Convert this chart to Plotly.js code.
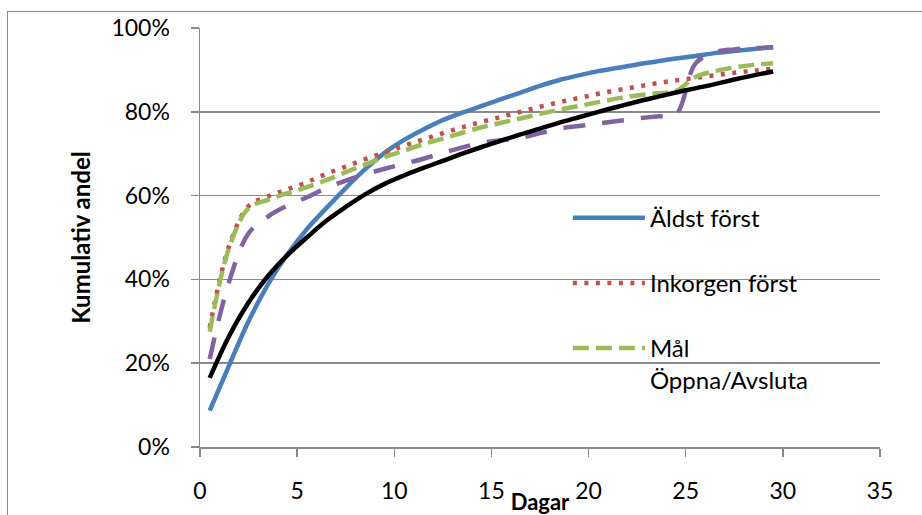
<!DOCTYPE html>
<html>
<head>
<meta charset="utf-8">
<script src="https://cdn.plot.ly/plotly-3.0.1.min.js"></script>
<style>
  html, body { margin: 0; padding: 0; background: #fff; }
  #wrap { position: relative; width: 922px; height: 515px; overflow: hidden; }
  #chart { width: 922px; height: 515px; }
  #frame {
    position: absolute; left: 7px; top: 11px; width: 1000px; height: 600px;
    border-left: 1.5px solid #8a8a8a; border-top: 1.5px solid #8a8a8a;
    pointer-events: none;
  }
</style>
</head>
<body>
<div id="wrap">
  <div id="chart"></div>
  <div id="frame"></div>
</div>
<script>
// Days (bin midpoints)
const dagar = [0.5, 1.5, 2.5, 3.5, 4.5, 5.5, 6.5, 7.5, 8.5, 9.5,
               10.5, 11.5, 12.5, 13.5, 14.5, 15.5, 16.5, 17.5, 18.5, 19.5,
               20.5, 21.5, 22.5, 23.5, 24.5, 25.5, 26.5, 27.5, 28.5, 29.5];

// Cumulative share (%) per strategy
const aldstForst = [8.7, 19.5, 30.0, 38.8, 46.0, 52.0, 57.0, 61.8, 66.3, 70.2,
                    73.3, 75.8, 78.0, 79.8, 81.4, 83.0, 84.6, 86.2, 87.6, 88.7,
                    89.7, 90.5, 91.3, 92.0, 92.7, 93.3, 94.0, 94.5, 95.0, 95.4];

const inkorgenForst = [28.5, 48.0, 57.5, 59.8, 61.5, 63.2, 65.2, 66.9, 68.7, 70.3,
                       71.9, 73.4, 74.9, 76.3, 77.6, 78.8, 80.0, 81.2, 82.3, 83.3,
                       84.3, 85.2, 86.0, 86.8, 87.5, 88.1, 88.7, 89.3, 89.8, 90.3];

const malOppna = [27.5, 47.5, 57.0, 59.0, 60.6, 62.0, 63.7, 65.6, 67.4, 69.2,
                  70.7, 72.3, 73.6, 75.0, 76.3, 77.4, 78.4, 79.5, 80.5, 81.4,
                  82.3, 83.2, 83.9, 84.4, 85.0, 88.3, 89.7, 90.6, 91.2, 91.6];

const serie4 = [21.0, 39.5, 51.0, 55.0, 57.6, 59.6, 61.8, 63.6, 65.1, 66.4,
                67.6, 68.8, 70.2, 71.5, 72.6, 73.2, 73.8, 74.9, 76.0, 76.6,
                77.2, 77.8, 78.4, 78.9, 79.4, 91.5, 94.2, 94.9, 95.2, 95.4];

const serie5 = [16.5, 26.5, 34.5, 40.8, 45.8, 50.0, 54.0, 57.3, 60.3, 62.8,
                64.8, 66.6, 68.3, 70.0, 71.6, 73.1, 74.6, 76.0, 77.4, 78.7,
                80.0, 81.2, 82.4, 83.5, 84.6, 85.6, 86.6, 87.7, 88.7, 89.6];

const namn = ['Äldst först', 'Inkorgen först', 'Mål<br>Öppna/Avsluta'];

const FONT = 'Lato, "Open Sans", sans-serif';

const traces = [
  { x: dagar, y: aldstForst, name: namn[0], legendgroup: 'a',
    line: { color: '#4a7ebb', width: 4.5, shape: 'spline' } },
  { x: dagar, y: inkorgenForst, name: namn[1], legendgroup: 'b',
    line: { color: '#c0504d', width: 4.5, shape: 'spline', dash: '4px,7.5px' } },
  { x: dagar, y: malOppna, name: namn[2], legendgroup: 'c',
    line: { color: '#9bbb59', width: 4.5, shape: 'spline', dash: '16px,7px' } },
  { x: dagar, y: serie4, showlegend: false,
    line: { color: '#8064a2', width: 4.5, shape: 'spline', dash: '22px,17px' } },
  { x: dagar, y: serie5, showlegend: false,
    line: { color: '#000000', width: 4.5, shape: 'spline' } }
].map(t => Object.assign({ type: 'scatter', mode: 'lines', hoverinfo: 'skip' }, t));

const layout = {
  width: 922, height: 515,
  margin: { l: 200, r: 42, t: 28, b: 68 },
  paper_bgcolor: '#ffffff', plot_bgcolor: '#ffffff',
  font: { family: FONT, size: 23, color: '#000' },
  showlegend: true,
  legend: {
    x: 0.541, xanchor: 'left', y: 0.60, yanchor: 'top',
    bgcolor: 'rgba(0,0,0,0)', borderwidth: 0,
    font: { family: FONT, size: 24, color: '#000' },
    traceorder: 'grouped', tracegroupgap: 31, valign: 'top',
    itemwidth: 72
  },
  xaxis: {
    range: [0, 35], dtick: 5, tick0: 0,
    showgrid: false, zeroline: false,
    showline: true, linecolor: '#8a8a8a', linewidth: 1.5,
    ticks: 'outside', ticklen: 8, tickcolor: '#8a8a8a', tickwidth: 1.5,
    ticklabelstandoff: 15,
    tickfont: { family: FONT, size: 23 },
    title: { text: '<b>Dagar</b>', font: { family: FONT, size: 22 }, standoff: 0 }
  },
  yaxis: {
    range: [0, 100], dtick: 20, tick0: 0, ticksuffix: '%',
    showgrid: true, gridcolor: '#8a8a8a', gridwidth: 1.5,
    zeroline: false,
    showline: true, linecolor: '#8a8a8a', linewidth: 1.5,
    ticks: 'outside', ticklen: 8, tickcolor: '#8a8a8a', tickwidth: 1.5,
    ticklabelstandoff: 16,
    tickfont: { family: FONT, size: 23 },
    title: { text: '<b>Kumulativ andel</b>', font: { family: FONT, size: 24 }, standoff: 14 }
  }
};

Plotly.newPlot('chart', traces, layout, { staticPlot: true, displayModeBar: false });
</script>
</body>
</html>
